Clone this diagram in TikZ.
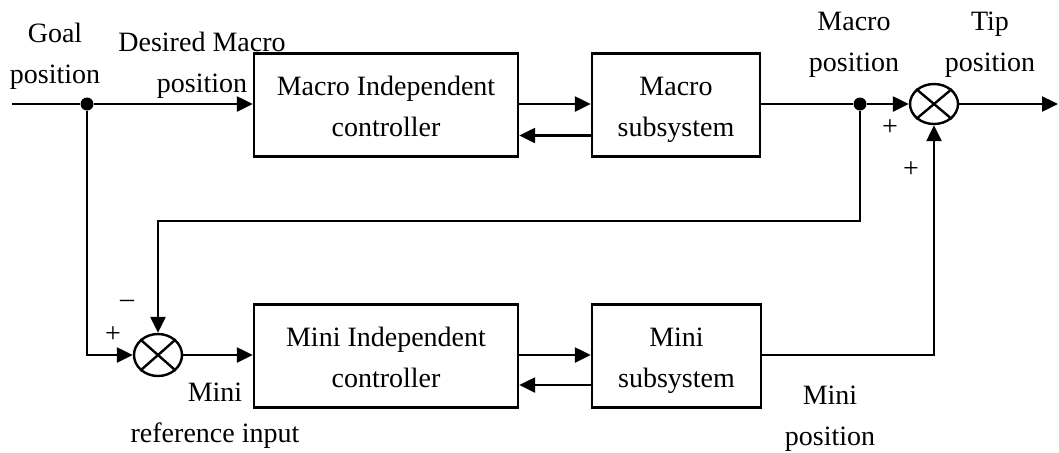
\documentclass[tikz,border=0pt]{standalone}
\usepackage{fontspec}
\setmainfont{Liberation Serif}
\usetikzlibrary{arrows.meta,shapes.geometric}
% taller strut for the first line of block texts
\newcommand\blkstrut{\rule{0pt}{16.8pt}}
\begin{document}
\begin{tikzpicture}[x=0.5pt,y=-0.5pt,
  every node/.style={font=\fontsize{14}{20.5}\selectfont},
  blk/.style={draw,line width=1.2pt,minimum height=51.5pt,align=center,inner sep=0pt},
  sumnode/.style={draw,ellipse,line width=1.2pt,minimum width=24pt,minimum height=20pt,inner sep=0pt},
  dotnode/.style={circle,fill,inner sep=0pt,minimum size=6.5pt},
  sig/.style={line width=1.2pt},
  arr/.style={sig,-{Triangle[length=8pt,width=7.5pt]}},
  lbl/.style={align=center,inner sep=0pt},
  sgn/.style={inner sep=0pt}
]
\useasboundingbox (0,0) rectangle (1059,452);

% blocks
\node[blk,minimum width=132pt] (mc) at (386,105) {\blkstrut Macro Independent\strut\\controller\strut};
\node[blk,minimum width=84pt]  (ms) at (676,105) {\blkstrut Macro\strut\\subsystem\strut};
\node[blk,minimum width=132pt] (nc) at (386,356) {\blkstrut Mini Independent\strut\\controller\strut};
\node[blk,minimum width=84.5pt] (ns) at (676.5,356) {\blkstrut Mini\strut\\subsystem\strut};

% summing junctions
\node[sumnode] (s1) at (934,104) {};
\node[sumnode,minimum height=21pt] (s2) at (158,355) {};
\foreach \s in {s1,s2}{
  \draw[line width=1.2pt] (\s.north west) -- (\s.south east)
                          (\s.north east) -- (\s.south west);
}

% branch points and free ends
\node[dotnode] (j1) at (87,104) {};
\node[dotnode] (j2) at (860,104) {};
\coordinate (in)  at (12,104);
\coordinate (out) at (1058,104);
\coordinate (fbr) at (860,221);
\coordinate (fbl) at (158,221);

% macro path
\draw[sig] (in) -- (j1);
\draw[arr] (j1) -- (mc.west |- j1);
\draw[arr] (mc.east |- j1) -- (ms.west |- j1);
\draw[arr] ([yshift=-15.75pt]ms.west |- j1) -- ([yshift=-15.75pt]mc.east |- j1);
\draw[sig] (ms.east |- j2) -- (j2);
\draw[arr] (j2) -- (s1.west);
\draw[arr] (s1.east) -- (out);

% feedback of macro position to the mini loop
\draw[arr] (j2) -- (fbr) -- (fbl) -- (s2.north);
\draw[arr] (j1) |- (s2.west);

% mini path
\draw[arr] (s2.east) -- (nc.west |- s2.east);
\draw[arr] (nc.east |- s2.east) -- (ns.west |- s2.east);
\draw[arr] ([yshift=-15pt]ns.west |- s2.east) -- ([yshift=-15pt]nc.east |- s2.east);
\draw[arr] (ns.east |- s2.east) -| (s1.south);

% signal labels
\node[lbl] (lgoal) at (55,56.5)  {Goal\\position};
\node[lbl] (ldes)  at (202,65)   {Desired Macro\\position};
\node[lbl] (lmac)  at (854,44.5) {Macro\\position};
\node[lbl] (ltip)  at (990,44.5) {Tip\\position};
\node[lbl] (lmref) at (215,416)  {Mini\\reference input};
\node[lbl] (lmpos) at (830,418.5) {Mini\\position};

% signs
\node[sgn] (p1) at (890,128) {+};
\node[sgn] (p2) at (911,170) {+};
\node[sgn] (p3) at (113,335) {+};
\node[sgn] (m1) at (127,304) {\textendash};
\end{tikzpicture}
\end{document}
